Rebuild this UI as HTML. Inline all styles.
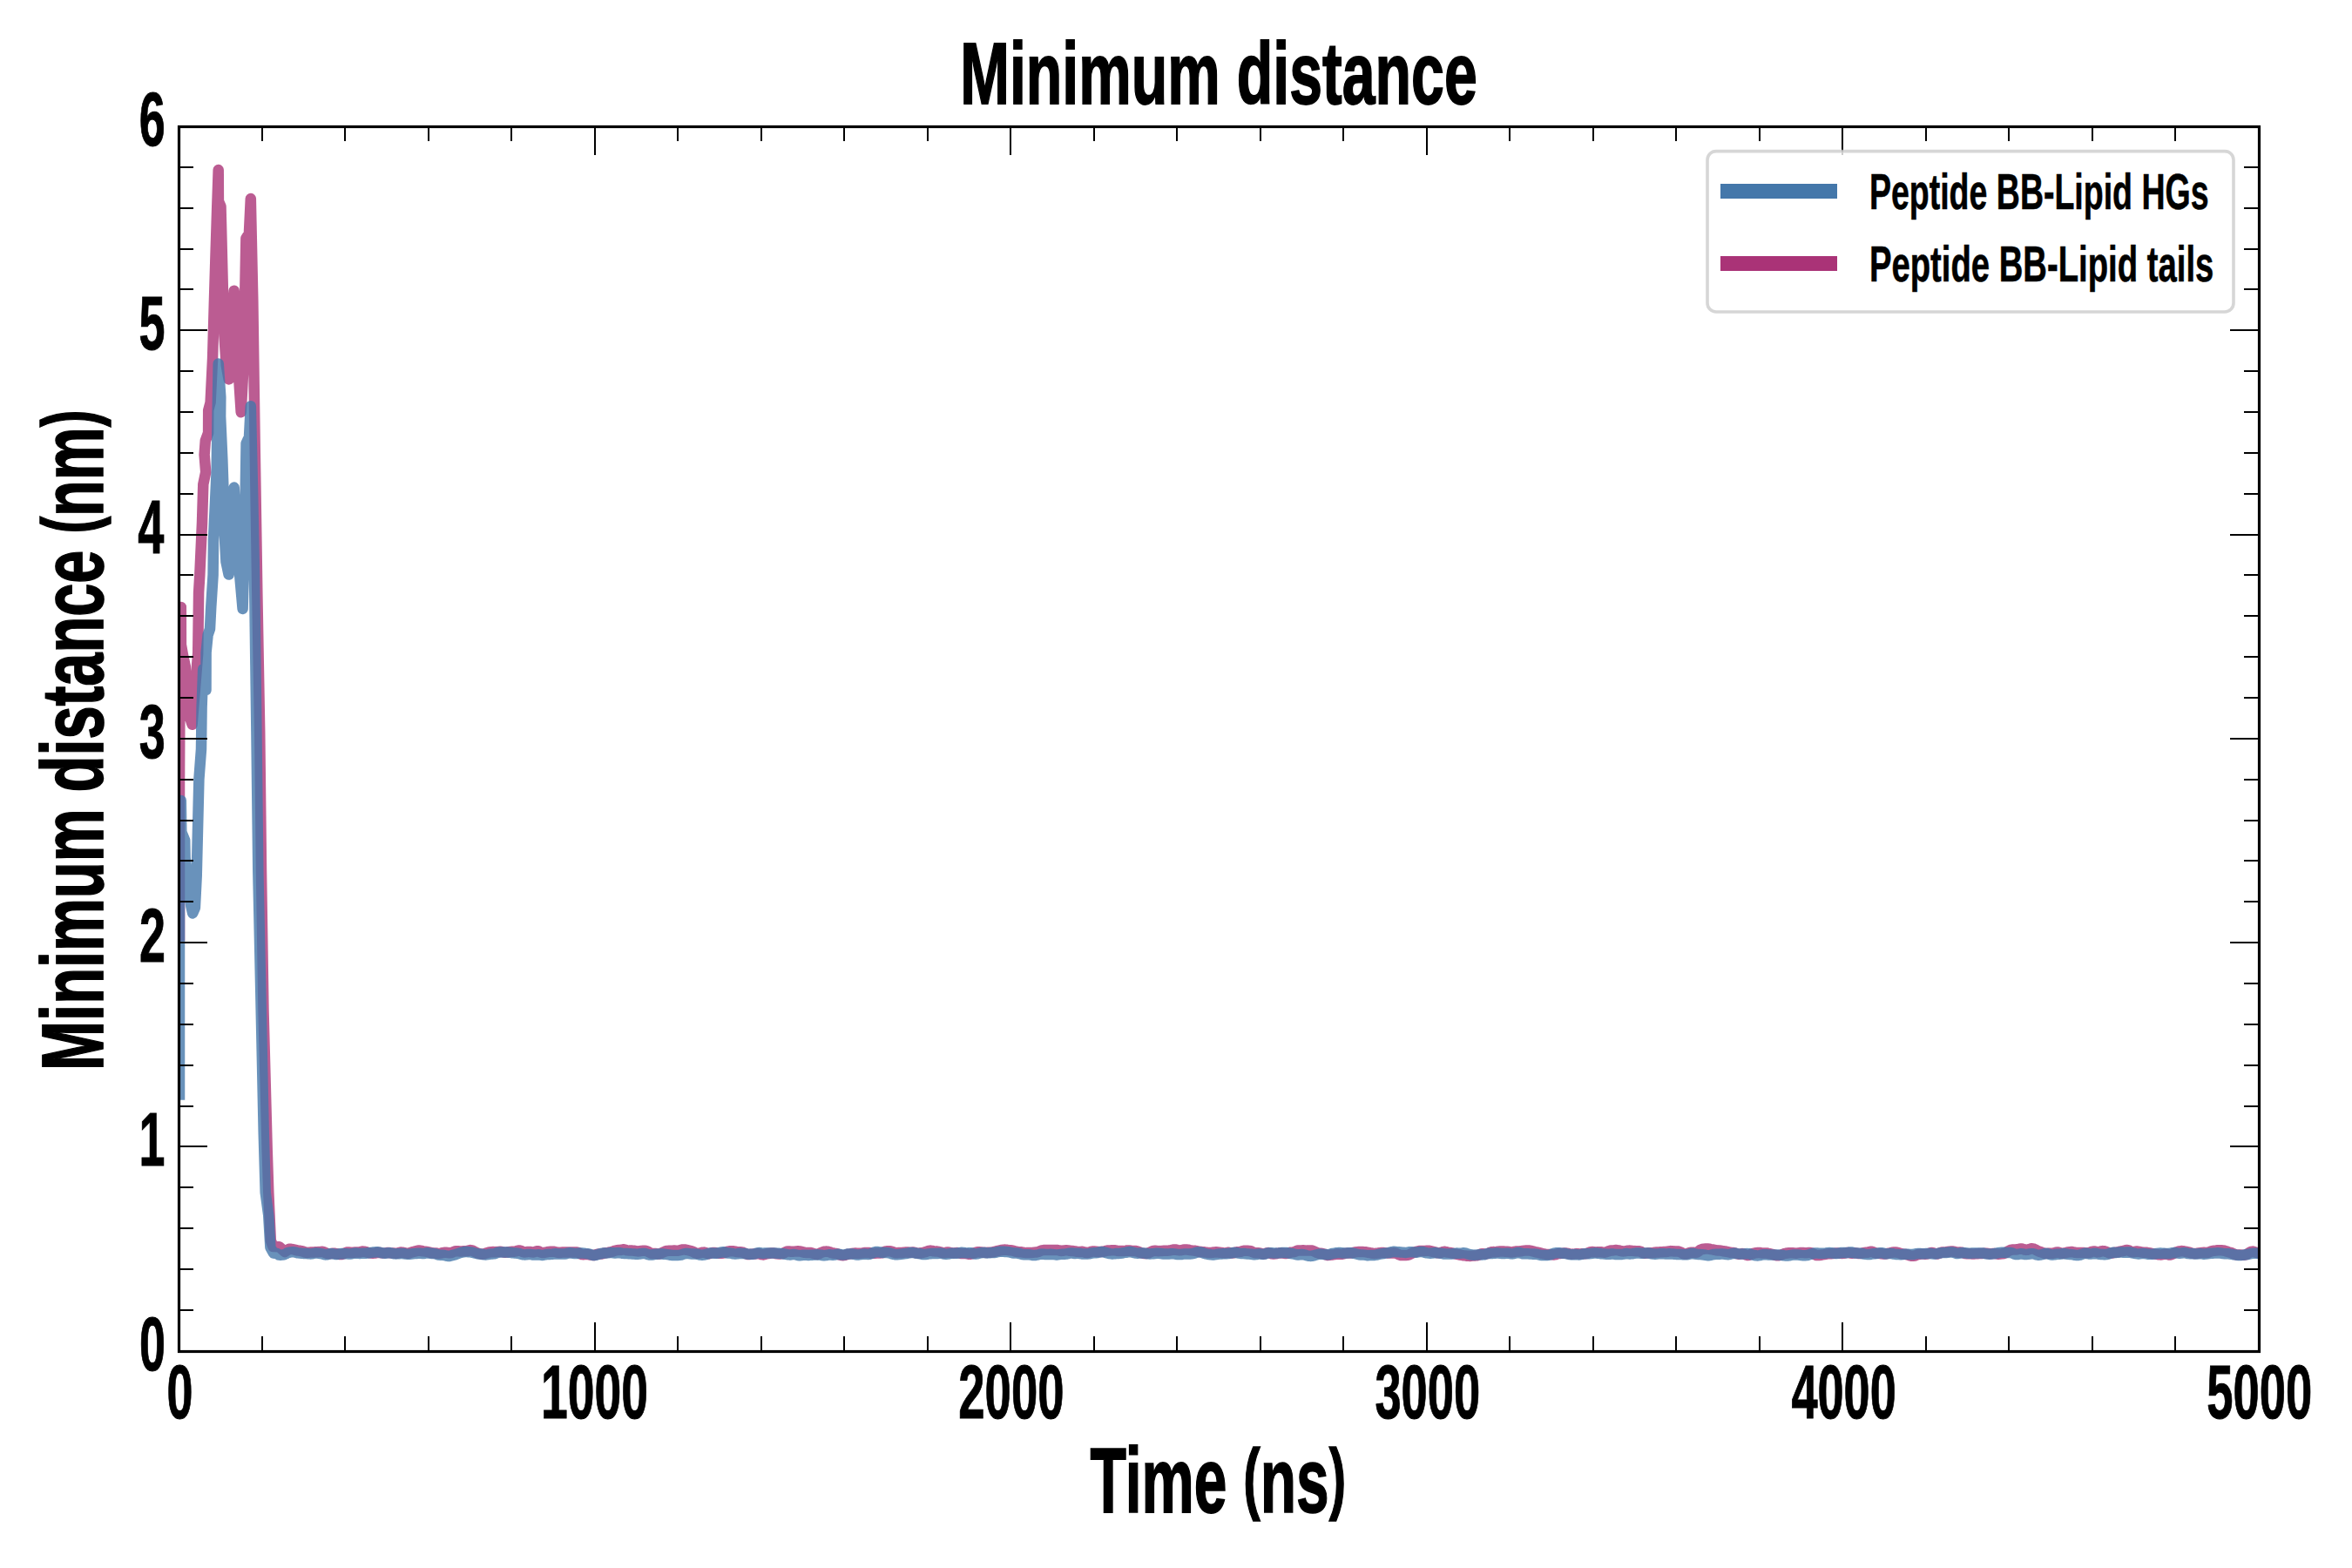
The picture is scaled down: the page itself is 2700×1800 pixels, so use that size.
<!DOCTYPE html>
<html lang="en"><head><meta charset="utf-8"><title>Minimum distance</title>
<style>html,body{margin:0;padding:0;background:#fff}svg{display:block}</style></head>
<body><svg width="2700" height="1800" viewBox="0 0 2700 1800">
<rect width="2700" height="1800" fill="#fff"/>
<defs><clipPath id="ax"><rect x="205.5" y="145.5" width="2388.0" height="1406.0"/></clipPath></defs>
<g clip-path="url(#ax)" fill="none" stroke-width="12.5" stroke-linejoin="round" stroke-linecap="square">
<path d="M206.0,1074.0 L206.0,900.0 L206.6,760.0 L207.8,697.0 L207.9,740.0 L210.0,752.0 L212.8,765.0 L214.5,800.0 L217.5,822.0 L220.6,831.7 L224.0,790.0 L227.2,750.0 L228.1,680.0 L229.3,660.0 L232.0,600.0 L233.3,556.0 L236.2,542.0 L234.6,522.0 L235.8,506.0 L239.1,497.0 L239.2,471.0 L241.6,462.0 L244.1,411.0 L245.8,350.0 L247.3,300.0 L249.2,239.0 L250.7,195.0 L250.9,231.0 L253.5,237.0 L255.8,330.0 L257.5,386.0 L259.8,420.0 L262.6,435.4 L265.0,395.0 L268.7,333.7 L272.0,400.0 L276.7,473.2 L279.0,430.0 L281.0,350.0 L282.4,273.5 L285.9,268.0 L287.8,228.0 L290.3,345.0 L292.8,520.0 L295.3,680.0 L298.2,840.0 L300.0,1000.0 L302.5,1160.0 L306.7,1320.0 L308.3,1369.0 L310.8,1424.0 L313.5,1431.0 L320.5,1431.3 L327.0,1437.0 L332.0,1433.7 L334.0,1433.8 L336.0,1434.2 L338.0,1434.6 L340.0,1435.1 L342.0,1435.6 L344.0,1435.8 L346.0,1436.1 L348.0,1436.6 L350.0,1437.4 L352.0,1437.9 L354.0,1437.8 L356.0,1437.6 L358.0,1437.5 L360.0,1437.4 L362.0,1437.3 L364.0,1437.2 L366.0,1437.1 L368.0,1436.9 L370.0,1436.8 L372.0,1437.3 L374.0,1438.3 L376.0,1439.1 L378.0,1439.3 L380.0,1439.1 L382.0,1438.8 L384.0,1438.8 L386.0,1439.1 L388.0,1439.5 L390.0,1440.0 L392.0,1440.0 L394.0,1439.3 L396.0,1438.3 L398.0,1437.6 L400.0,1437.5 L402.0,1437.8 L404.0,1438.1 L406.0,1437.8 L408.0,1437.5 L410.0,1437.6 L412.0,1437.6 L414.0,1437.1 L416.0,1436.6 L418.0,1436.7 L420.0,1437.1 L422.0,1437.7 L424.0,1438.2 L426.0,1438.5 L428.0,1438.7 L430.0,1438.6 L432.0,1438.1 L434.0,1437.8 L436.0,1437.9 L438.0,1438.4 L440.0,1438.6 L442.0,1438.4 L444.0,1438.1 L446.0,1438.0 L448.0,1438.3 L450.0,1438.5 L452.0,1438.6 L454.0,1438.7 L456.0,1438.7 L458.0,1438.1 L460.0,1437.6 L462.0,1437.7 L464.0,1438.1 L466.0,1438.6 L468.0,1438.8 L470.0,1438.4 L472.0,1437.7 L474.0,1437.1 L476.0,1436.7 L478.0,1436.1 L480.0,1435.6 L482.0,1435.6 L484.0,1436.0 L486.0,1436.4 L488.0,1436.6 L490.0,1436.9 L492.0,1437.3 L494.0,1437.9 L496.0,1438.3 L498.0,1438.4 L500.0,1438.5 L502.0,1438.8 L504.0,1438.9 L506.0,1438.6 L508.0,1438.2 L510.0,1437.8 L512.0,1437.8 L514.0,1438.0 L516.0,1438.2 L518.0,1438.0 L520.0,1437.3 L522.0,1436.5 L524.0,1436.2 L526.0,1436.3 L528.0,1436.4 L530.0,1436.4 L532.0,1436.3 L534.0,1436.3 L536.0,1436.1 L538.0,1435.6 L540.0,1435.1 L542.0,1435.4 L544.0,1436.4 L546.0,1437.5 L548.0,1438.4 L550.0,1439.0 L552.0,1439.5 L554.0,1439.7 L556.0,1439.3 L558.0,1438.5 L560.0,1437.9 L562.0,1437.5 L564.0,1437.2 L566.0,1437.1 L568.0,1437.2 L570.0,1437.1 L572.0,1436.9 L574.0,1436.8 L576.0,1437.0 L578.0,1437.5 L580.0,1437.7 L582.0,1437.6 L584.0,1437.2 L586.0,1436.9 L588.0,1436.7 L590.0,1436.7 L592.0,1436.4 L594.0,1435.8 L596.0,1435.4 L598.0,1435.8 L600.0,1436.9 L602.0,1437.5 L604.0,1437.3 L606.0,1436.9 L608.0,1436.9 L610.0,1437.4 L612.0,1437.6 L614.0,1437.0 L616.0,1436.2 L618.0,1436.3 L620.0,1437.2 L622.0,1438.0 L624.0,1438.1 L626.0,1437.7 L628.0,1437.2 L630.0,1436.9 L632.0,1436.7 L634.0,1436.7 L636.0,1436.8 L638.0,1437.3 L640.0,1437.8 L642.0,1438.0 L644.0,1437.7 L646.0,1437.5 L648.0,1437.5 L650.0,1437.6 L652.0,1437.6 L654.0,1437.5 L656.0,1437.4 L658.0,1437.5 L660.0,1437.4 L662.0,1437.5 L664.0,1438.1 L666.0,1439.2 L668.0,1440.1 L670.0,1440.2 L672.0,1439.8 L674.0,1439.8 L676.0,1440.1 L678.0,1440.6 L680.0,1440.9 L682.0,1440.9 L684.0,1440.4 L686.0,1439.7 L688.0,1439.5 L690.0,1439.6 L692.0,1439.2 L694.0,1438.5 L696.0,1438.1 L698.0,1437.9 L700.0,1437.5 L702.0,1437.0 L704.0,1436.4 L706.0,1435.7 L708.0,1435.2 L710.0,1435.1 L712.0,1435.0 L714.0,1434.6 L716.0,1434.3 L718.0,1434.8 L720.0,1435.4 L722.0,1435.6 L724.0,1435.6 L726.0,1435.6 L728.0,1435.8 L730.0,1436.1 L732.0,1436.4 L734.0,1436.3 L736.0,1435.9 L738.0,1435.8 L740.0,1435.8 L742.0,1436.0 L744.0,1436.8 L746.0,1438.0 L748.0,1439.0 L750.0,1439.0 L752.0,1438.9 L754.0,1439.3 L756.0,1439.5 L758.0,1439.1 L760.0,1438.1 L762.0,1437.2 L764.0,1436.4 L766.0,1435.9 L768.0,1435.8 L770.0,1435.8 L772.0,1435.7 L774.0,1435.5 L776.0,1435.7 L778.0,1435.7 L780.0,1435.4 L782.0,1434.9 L784.0,1434.4 L786.0,1434.4 L788.0,1434.8 L790.0,1435.3 L792.0,1435.8 L794.0,1436.3 L796.0,1437.1 L798.0,1438.2 L800.0,1438.8 L802.0,1438.7 L804.0,1438.3 L806.0,1437.8 L808.0,1437.6 L810.0,1438.1 L812.0,1438.9 L814.0,1439.2 L816.0,1438.7 L818.0,1438.0 L820.0,1438.0 L822.0,1438.3 L824.0,1438.6 L826.0,1438.8 L828.0,1438.8 L830.0,1438.5 L832.0,1437.9 L834.0,1437.1 L836.0,1436.6 L838.0,1436.3 L840.0,1436.2 L842.0,1436.3 L844.0,1436.7 L846.0,1437.1 L848.0,1437.3 L850.0,1437.3 L852.0,1437.4 L854.0,1438.2 L856.0,1439.2 L858.0,1439.9 L860.0,1440.0 L862.0,1439.8 L864.0,1439.6 L866.0,1439.5 L868.0,1439.2 L870.0,1439.0 L872.0,1439.4 L874.0,1440.1 L876.0,1440.4 L878.0,1439.9 L880.0,1439.3 L882.0,1439.0 L884.0,1438.7 L886.0,1438.4 L888.0,1438.5 L890.0,1439.0 L892.0,1439.3 L894.0,1439.5 L896.0,1439.4 L898.0,1439.1 L900.0,1438.3 L902.0,1437.2 L904.0,1436.5 L906.0,1436.5 L908.0,1436.7 L910.0,1436.8 L912.0,1436.6 L914.0,1436.4 L916.0,1436.3 L918.0,1436.4 L920.0,1436.8 L922.0,1437.4 L924.0,1437.9 L926.0,1438.1 L928.0,1438.0 L930.0,1438.0 L932.0,1438.4 L934.0,1439.1 L936.0,1439.7 L938.0,1439.9 L940.0,1439.3 L942.0,1438.3 L944.0,1437.4 L946.0,1436.8 L948.0,1436.6 L950.0,1436.7 L952.0,1437.1 L954.0,1437.9 L956.0,1438.5 L958.0,1438.8 L960.0,1439.0 L962.0,1439.6 L964.0,1440.5 L966.0,1441.1 L968.0,1441.2 L970.0,1440.8 L972.0,1440.1 L974.0,1439.6 L976.0,1439.4 L978.0,1439.0 L980.0,1438.7 L982.0,1438.6 L984.0,1438.7 L986.0,1438.8 L988.0,1438.6 L990.0,1438.4 L992.0,1438.1 L994.0,1438.0 L996.0,1438.0 L998.0,1438.1 L1000.0,1438.5 L1002.0,1438.8 L1004.0,1438.8 L1006.0,1438.5 L1008.0,1438.4 L1010.0,1438.6 L1012.0,1438.4 L1014.0,1437.6 L1016.0,1436.7 L1018.0,1436.3 L1020.0,1436.3 L1022.0,1436.2 L1024.0,1436.7 L1026.0,1437.6 L1028.0,1438.2 L1030.0,1438.2 L1032.0,1437.9 L1034.0,1438.0 L1036.0,1438.0 L1038.0,1437.6 L1040.0,1437.4 L1042.0,1437.5 L1044.0,1437.7 L1046.0,1437.7 L1048.0,1437.5 L1050.0,1437.9 L1052.0,1438.4 L1054.0,1438.7 L1056.0,1438.6 L1058.0,1438.2 L1060.0,1437.8 L1062.0,1437.3 L1064.0,1436.6 L1066.0,1435.9 L1068.0,1435.6 L1070.0,1435.9 L1072.0,1436.4 L1074.0,1436.6 L1076.0,1436.6 L1078.0,1436.9 L1080.0,1437.5 L1082.0,1438.2 L1084.0,1438.3 L1086.0,1437.8 L1088.0,1437.5 L1090.0,1437.7 L1092.0,1438.2 L1094.0,1438.4 L1096.0,1438.3 L1098.0,1438.1 L1100.0,1438.2 L1102.0,1438.7 L1104.0,1439.1 L1106.0,1439.1 L1108.0,1438.9 L1110.0,1439.2 L1112.0,1439.7 L1114.0,1439.7 L1116.0,1439.2 L1118.0,1438.5 L1120.0,1437.8 L1122.0,1437.3 L1124.0,1437.3 L1126.0,1437.5 L1128.0,1437.7 L1130.0,1437.8 L1132.0,1437.9 L1134.0,1437.8 L1136.0,1437.8 L1138.0,1437.7 L1140.0,1437.3 L1142.0,1436.7 L1144.0,1436.2 L1146.0,1435.8 L1148.0,1435.4 L1150.0,1435.0 L1152.0,1434.7 L1154.0,1434.6 L1156.0,1434.8 L1158.0,1435.2 L1160.0,1435.3 L1162.0,1435.5 L1164.0,1436.1 L1166.0,1436.7 L1168.0,1437.1 L1170.0,1437.2 L1172.0,1437.3 L1174.0,1437.6 L1176.0,1437.9 L1178.0,1438.1 L1180.0,1438.0 L1182.0,1437.9 L1184.0,1437.9 L1186.0,1437.8 L1188.0,1437.6 L1190.0,1437.5 L1192.0,1437.0 L1194.0,1436.1 L1196.0,1435.4 L1198.0,1435.1 L1200.0,1435.0 L1202.0,1434.9 L1204.0,1434.9 L1206.0,1434.9 L1208.0,1434.9 L1210.0,1434.9 L1212.0,1434.9 L1214.0,1435.0 L1216.0,1435.5 L1218.0,1435.9 L1220.0,1435.8 L1222.0,1435.4 L1224.0,1435.2 L1226.0,1435.4 L1228.0,1435.8 L1230.0,1436.0 L1232.0,1436.1 L1234.0,1436.4 L1236.0,1436.7 L1238.0,1436.9 L1240.0,1436.9 L1242.0,1436.8 L1244.0,1437.1 L1246.0,1437.8 L1248.0,1438.1 L1250.0,1437.8 L1252.0,1437.0 L1254.0,1436.6 L1256.0,1436.5 L1258.0,1436.7 L1260.0,1437.0 L1262.0,1437.0 L1264.0,1437.0 L1266.0,1436.8 L1268.0,1436.4 L1270.0,1435.9 L1272.0,1435.5 L1274.0,1435.4 L1276.0,1435.3 L1278.0,1435.2 L1280.0,1435.3 L1282.0,1435.7 L1284.0,1436.0 L1286.0,1436.0 L1288.0,1436.0 L1290.0,1436.1 L1292.0,1435.9 L1294.0,1435.5 L1296.0,1435.5 L1298.0,1435.8 L1300.0,1436.1 L1302.0,1436.0 L1304.0,1436.1 L1306.0,1436.6 L1308.0,1437.4 L1310.0,1438.2 L1312.0,1438.7 L1314.0,1439.0 L1316.0,1439.0 L1318.0,1438.5 L1320.0,1437.6 L1322.0,1436.7 L1324.0,1436.0 L1326.0,1435.8 L1328.0,1436.0 L1330.0,1436.2 L1332.0,1436.1 L1334.0,1435.9 L1336.0,1435.8 L1338.0,1435.7 L1340.0,1435.7 L1342.0,1435.5 L1344.0,1435.2 L1346.0,1434.8 L1348.0,1434.5 L1350.0,1434.6 L1352.0,1435.1 L1354.0,1435.4 L1356.0,1435.2 L1358.0,1434.7 L1360.0,1434.4 L1362.0,1434.5 L1364.0,1434.7 L1366.0,1435.1 L1368.0,1435.4 L1370.0,1435.6 L1372.0,1435.8 L1374.0,1436.2 L1376.0,1436.8 L1378.0,1437.1 L1380.0,1437.1 L1382.0,1437.3 L1384.0,1437.6 L1386.0,1437.8 L1388.0,1437.9 L1390.0,1437.9 L1392.0,1437.8 L1394.0,1437.4 L1396.0,1437.3 L1398.0,1437.5 L1400.0,1437.7 L1402.0,1437.9 L1404.0,1438.2 L1406.0,1438.4 L1408.0,1438.1 L1410.0,1437.8 L1412.0,1438.1 L1414.0,1438.5 L1416.0,1438.3 L1418.0,1437.7 L1420.0,1437.3 L1422.0,1437.1 L1424.0,1436.9 L1426.0,1436.3 L1428.0,1435.8 L1430.0,1435.7 L1432.0,1435.8 L1434.0,1436.0 L1436.0,1436.3 L1438.0,1437.2 L1440.0,1438.0 L1442.0,1438.3 L1444.0,1438.2 L1446.0,1438.4 L1448.0,1439.0 L1450.0,1439.6 L1452.0,1439.4 L1454.0,1438.5 L1456.0,1438.1 L1458.0,1438.6 L1460.0,1439.3 L1462.0,1439.5 L1464.0,1439.3 L1466.0,1439.0 L1468.0,1438.5 L1470.0,1438.3 L1472.0,1438.4 L1474.0,1438.7 L1476.0,1439.1 L1478.0,1438.9 L1480.0,1438.2 L1482.0,1437.6 L1484.0,1437.4 L1486.0,1437.1 L1488.0,1436.2 L1490.0,1435.5 L1492.0,1435.4 L1494.0,1435.5 L1496.0,1435.3 L1498.0,1435.4 L1500.0,1435.6 L1502.0,1435.6 L1504.0,1435.5 L1506.0,1435.6 L1508.0,1436.2 L1510.0,1437.1 L1512.0,1438.1 L1514.0,1438.7 L1516.0,1438.8 L1518.0,1439.0 L1520.0,1439.5 L1522.0,1440.4 L1524.0,1440.9 L1526.0,1440.8 L1528.0,1440.5 L1530.0,1440.4 L1532.0,1440.1 L1534.0,1439.7 L1536.0,1439.5 L1538.0,1439.7 L1540.0,1439.8 L1542.0,1439.4 L1544.0,1438.9 L1546.0,1438.6 L1548.0,1438.6 L1550.0,1438.6 L1552.0,1438.3 L1554.0,1437.8 L1556.0,1437.4 L1558.0,1437.1 L1560.0,1436.9 L1562.0,1436.9 L1564.0,1436.9 L1566.0,1437.1 L1568.0,1437.3 L1570.0,1437.7 L1572.0,1438.0 L1574.0,1438.5 L1576.0,1438.8 L1578.0,1438.9 L1580.0,1438.7 L1582.0,1438.5 L1584.0,1438.2 L1586.0,1438.0 L1588.0,1438.1 L1590.0,1438.2 L1592.0,1438.4 L1594.0,1438.5 L1596.0,1438.5 L1598.0,1438.4 L1600.0,1438.3 L1602.0,1438.5 L1604.0,1439.4 L1606.0,1440.3 L1608.0,1440.9 L1610.0,1440.9 L1612.0,1440.9 L1614.0,1440.9 L1616.0,1440.8 L1618.0,1440.2 L1620.0,1439.2 L1622.0,1438.2 L1624.0,1437.4 L1626.0,1436.8 L1628.0,1436.4 L1630.0,1436.0 L1632.0,1435.9 L1634.0,1435.9 L1636.0,1435.9 L1638.0,1435.7 L1640.0,1435.7 L1642.0,1436.1 L1644.0,1436.6 L1646.0,1437.1 L1648.0,1437.6 L1650.0,1438.2 L1652.0,1438.4 L1654.0,1438.0 L1656.0,1437.2 L1658.0,1436.8 L1660.0,1437.1 L1662.0,1437.6 L1664.0,1437.9 L1666.0,1438.2 L1668.0,1438.8 L1670.0,1439.3 L1672.0,1439.8 L1674.0,1440.1 L1676.0,1440.5 L1678.0,1440.9 L1680.0,1441.2 L1682.0,1441.4 L1684.0,1441.7 L1686.0,1441.8 L1688.0,1441.9 L1690.0,1441.6 L1692.0,1441.4 L1694.0,1441.4 L1696.0,1441.2 L1698.0,1440.5 L1700.0,1439.5 L1702.0,1439.2 L1704.0,1439.4 L1706.0,1439.5 L1708.0,1439.0 L1710.0,1438.0 L1712.0,1437.3 L1714.0,1437.1 L1716.0,1437.2 L1718.0,1437.0 L1720.0,1436.7 L1722.0,1436.5 L1724.0,1436.5 L1726.0,1436.6 L1728.0,1436.7 L1730.0,1436.7 L1732.0,1437.0 L1734.0,1437.4 L1736.0,1437.4 L1738.0,1437.0 L1740.0,1436.6 L1742.0,1436.5 L1744.0,1436.5 L1746.0,1436.3 L1748.0,1435.9 L1750.0,1435.6 L1752.0,1435.4 L1754.0,1435.5 L1756.0,1435.6 L1758.0,1435.9 L1760.0,1436.5 L1762.0,1437.1 L1764.0,1437.5 L1766.0,1437.9 L1768.0,1438.4 L1770.0,1438.9 L1772.0,1439.3 L1774.0,1439.7 L1776.0,1440.0 L1778.0,1440.1 L1780.0,1440.1 L1782.0,1440.3 L1784.0,1440.4 L1786.0,1440.0 L1788.0,1439.3 L1790.0,1438.9 L1792.0,1438.9 L1794.0,1438.7 L1796.0,1438.5 L1798.0,1438.6 L1800.0,1439.0 L1802.0,1439.4 L1804.0,1439.7 L1806.0,1439.6 L1808.0,1439.4 L1810.0,1439.1 L1812.0,1439.3 L1814.0,1439.4 L1816.0,1439.3 L1818.0,1439.3 L1820.0,1439.2 L1822.0,1438.8 L1824.0,1437.9 L1826.0,1437.2 L1828.0,1437.1 L1830.0,1437.2 L1832.0,1437.4 L1834.0,1437.3 L1836.0,1437.2 L1838.0,1437.3 L1840.0,1437.6 L1842.0,1437.8 L1844.0,1437.3 L1846.0,1436.5 L1848.0,1435.8 L1850.0,1435.5 L1852.0,1435.4 L1854.0,1435.1 L1856.0,1435.1 L1858.0,1435.4 L1860.0,1435.9 L1862.0,1436.3 L1864.0,1436.4 L1866.0,1436.2 L1868.0,1435.8 L1870.0,1435.6 L1872.0,1435.7 L1874.0,1435.9 L1876.0,1436.1 L1878.0,1436.2 L1880.0,1436.2 L1882.0,1436.3 L1884.0,1437.0 L1886.0,1438.2 L1888.0,1438.8 L1890.0,1438.6 L1892.0,1438.3 L1894.0,1438.2 L1896.0,1438.2 L1898.0,1438.0 L1900.0,1437.7 L1902.0,1437.4 L1904.0,1437.4 L1906.0,1437.3 L1908.0,1437.2 L1910.0,1437.1 L1912.0,1437.0 L1914.0,1436.8 L1916.0,1436.4 L1918.0,1436.1 L1920.0,1436.3 L1922.0,1436.6 L1924.0,1436.6 L1926.0,1436.5 L1928.0,1436.9 L1930.0,1437.8 L1932.0,1438.9 L1934.0,1439.5 L1936.0,1439.4 L1938.0,1438.7 L1940.0,1438.0 L1942.0,1437.7 L1944.0,1437.8 L1946.0,1438.1 L1948.0,1437.7 L1950.0,1436.3 L1952.0,1434.8 L1954.0,1434.0 L1956.0,1433.7 L1958.0,1433.5 L1960.0,1433.4 L1962.0,1433.7 L1964.0,1434.1 L1966.0,1434.4 L1968.0,1434.8 L1970.0,1435.3 L1972.0,1435.6 L1974.0,1435.6 L1976.0,1435.7 L1978.0,1436.2 L1980.0,1436.5 L1982.0,1436.8 L1984.0,1437.2 L1986.0,1437.7 L1988.0,1437.9 L1990.0,1437.9 L1992.0,1438.5 L1994.0,1439.3 L1996.0,1439.8 L1998.0,1439.5 L2000.0,1439.1 L2002.0,1439.5 L2004.0,1440.5 L2006.0,1441.0 L2008.0,1440.7 L2010.0,1439.9 L2012.0,1439.1 L2014.0,1438.6 L2016.0,1438.2 L2018.0,1438.0 L2020.0,1438.0 L2022.0,1438.4 L2024.0,1438.5 L2026.0,1438.4 L2028.0,1438.5 L2030.0,1438.9 L2032.0,1439.2 L2034.0,1439.7 L2036.0,1440.3 L2038.0,1440.9 L2040.0,1441.3 L2042.0,1441.3 L2044.0,1440.8 L2046.0,1440.0 L2048.0,1439.2 L2050.0,1438.8 L2052.0,1438.5 L2054.0,1438.2 L2056.0,1438.2 L2058.0,1438.3 L2060.0,1438.6 L2062.0,1438.7 L2064.0,1438.4 L2066.0,1438.1 L2068.0,1438.0 L2070.0,1438.1 L2072.0,1438.2 L2074.0,1438.2 L2076.0,1438.1 L2078.0,1438.0 L2080.0,1438.5 L2082.0,1439.5 L2084.0,1440.6 L2086.0,1441.1 L2088.0,1441.1 L2090.0,1440.8 L2092.0,1440.4 L2094.0,1440.1 L2096.0,1439.7 L2098.0,1439.4 L2100.0,1439.2 L2102.0,1439.2 L2104.0,1439.1 L2106.0,1438.8 L2108.0,1438.4 L2110.0,1438.5 L2112.0,1438.7 L2114.0,1438.9 L2116.0,1438.8 L2118.0,1438.5 L2120.0,1438.0 L2122.0,1438.0 L2124.0,1438.5 L2126.0,1438.7 L2128.0,1438.4 L2130.0,1438.3 L2132.0,1438.8 L2134.0,1439.1 L2136.0,1439.0 L2138.0,1438.5 L2140.0,1437.9 L2142.0,1437.8 L2144.0,1437.7 L2146.0,1437.1 L2148.0,1436.7 L2150.0,1437.1 L2152.0,1438.1 L2154.0,1438.7 L2156.0,1438.8 L2158.0,1438.9 L2160.0,1439.3 L2162.0,1439.5 L2164.0,1439.5 L2166.0,1439.1 L2168.0,1438.7 L2170.0,1438.2 L2172.0,1437.7 L2174.0,1437.5 L2176.0,1437.5 L2178.0,1437.7 L2180.0,1438.2 L2182.0,1439.0 L2184.0,1439.6 L2186.0,1439.7 L2188.0,1439.9 L2190.0,1440.5 L2192.0,1441.3 L2194.0,1441.8 L2196.0,1441.8 L2198.0,1441.5 L2200.0,1440.8 L2202.0,1440.0 L2204.0,1439.7 L2206.0,1439.6 L2208.0,1439.6 L2210.0,1439.7 L2212.0,1439.6 L2214.0,1439.0 L2216.0,1438.2 L2218.0,1437.9 L2220.0,1438.5 L2222.0,1439.3 L2224.0,1439.4 L2226.0,1438.8 L2228.0,1437.8 L2230.0,1437.4 L2232.0,1437.4 L2234.0,1437.3 L2236.0,1437.0 L2238.0,1436.7 L2240.0,1436.5 L2242.0,1436.6 L2244.0,1437.0 L2246.0,1437.5 L2248.0,1437.7 L2250.0,1437.5 L2252.0,1437.7 L2254.0,1438.4 L2256.0,1439.1 L2258.0,1439.3 L2260.0,1439.3 L2262.0,1439.3 L2264.0,1439.4 L2266.0,1439.4 L2268.0,1439.3 L2270.0,1439.2 L2272.0,1439.0 L2274.0,1439.0 L2276.0,1438.9 L2278.0,1438.7 L2280.0,1438.7 L2282.0,1439.0 L2284.0,1439.3 L2286.0,1439.2 L2288.0,1439.0 L2290.0,1439.1 L2292.0,1439.4 L2294.0,1439.7 L2296.0,1439.6 L2298.0,1439.4 L2300.0,1439.0 L2302.0,1438.3 L2304.0,1437.1 L2306.0,1435.9 L2308.0,1435.0 L2310.0,1434.6 L2312.0,1434.5 L2314.0,1434.5 L2316.0,1434.2 L2318.0,1433.7 L2320.0,1433.5 L2322.0,1433.8 L2324.0,1434.5 L2326.0,1434.9 L2328.0,1434.7 L2330.0,1433.9 L2332.0,1433.3 L2334.0,1433.4 L2336.0,1434.2 L2338.0,1435.4 L2340.0,1436.3 L2342.0,1437.0 L2344.0,1437.7 L2346.0,1438.5 L2348.0,1438.9 L2350.0,1438.8 L2352.0,1438.6 L2354.0,1438.8 L2356.0,1438.8 L2358.0,1438.4 L2360.0,1437.8 L2362.0,1437.5 L2364.0,1437.9 L2366.0,1438.6 L2368.0,1438.8 L2370.0,1438.5 L2372.0,1437.9 L2374.0,1437.5 L2376.0,1437.2 L2378.0,1437.0 L2380.0,1437.4 L2382.0,1437.8 L2384.0,1437.9 L2386.0,1437.9 L2388.0,1437.9 L2390.0,1438.0 L2392.0,1438.1 L2394.0,1438.2 L2396.0,1438.2 L2398.0,1438.0 L2400.0,1437.4 L2402.0,1436.6 L2404.0,1436.4 L2406.0,1436.8 L2408.0,1437.4 L2410.0,1437.2 L2412.0,1436.5 L2414.0,1436.1 L2416.0,1436.3 L2418.0,1437.0 L2420.0,1437.8 L2422.0,1438.5 L2424.0,1438.6 L2426.0,1438.1 L2428.0,1437.8 L2430.0,1437.5 L2432.0,1437.1 L2434.0,1436.6 L2436.0,1436.3 L2438.0,1435.9 L2440.0,1435.3 L2442.0,1435.0 L2444.0,1435.6 L2446.0,1436.7 L2448.0,1437.3 L2450.0,1437.0 L2452.0,1436.6 L2454.0,1436.6 L2456.0,1436.9 L2458.0,1437.3 L2460.0,1437.7 L2462.0,1437.8 L2464.0,1437.8 L2466.0,1438.1 L2468.0,1438.5 L2470.0,1438.9 L2472.0,1439.3 L2474.0,1439.6 L2476.0,1439.9 L2478.0,1440.2 L2480.0,1440.4 L2482.0,1440.3 L2484.0,1439.8 L2486.0,1439.5 L2488.0,1439.8 L2490.0,1440.4 L2492.0,1440.4 L2494.0,1439.7 L2496.0,1438.5 L2498.0,1437.5 L2500.0,1436.9 L2502.0,1436.4 L2504.0,1436.1 L2506.0,1436.2 L2508.0,1436.6 L2510.0,1437.0 L2512.0,1437.4 L2514.0,1437.9 L2516.0,1438.6 L2518.0,1438.9 L2520.0,1438.9 L2522.0,1438.8 L2524.0,1438.5 L2526.0,1438.2 L2528.0,1437.9 L2530.0,1437.8 L2532.0,1438.1 L2534.0,1438.1 L2536.0,1437.4 L2538.0,1436.5 L2540.0,1435.9 L2542.0,1435.7 L2544.0,1435.5 L2546.0,1435.2 L2548.0,1435.3 L2550.0,1435.3 L2552.0,1435.5 L2554.0,1435.8 L2556.0,1436.5 L2558.0,1437.2 L2560.0,1437.7 L2562.0,1438.3 L2564.0,1439.3 L2566.0,1440.1 L2568.0,1440.5 L2570.0,1440.5 L2572.0,1440.6 L2574.0,1440.7 L2576.0,1440.7 L2578.0,1440.4 L2580.0,1439.4 L2582.0,1438.0 L2584.0,1436.9 L2586.0,1436.6 L2588.0,1437.1 L2590.0,1437.8 L2592.0,1438.3" stroke="#AA3377" stroke-opacity="0.8"/>
<path d="M206.0,1256.6 L206.0,1000.0 L207.8,919.0 L208.3,955.0 L212.2,964.5 L212.6,985.0 L216.0,1015.0 L219.3,1040.0 L221.2,1048.4 L223.9,1042.0 L225.7,1006.0 L228.4,894.6 L231.0,860.0 L231.6,812.0 L233.2,768.0 L236.5,792.0 L236.6,749.0 L238.6,729.0 L241.0,722.0 L242.2,698.0 L244.6,660.0 L245.0,620.0 L248.7,540.0 L249.7,470.0 L250.7,417.4 L253.3,456.0 L253.1,478.0 L255.3,527.0 L256.2,553.0 L257.6,612.0 L259.5,645.0 L262.6,659.6 L265.0,620.0 L268.7,559.6 L272.5,630.0 L278.6,699.0 L280.0,650.0 L281.5,580.0 L282.6,509.0 L286.0,501.5 L287.8,466.2 L290.0,560.0 L292.0,660.0 L294.4,840.0 L296.3,1000.0 L299.3,1140.0 L302.7,1300.0 L304.7,1369.0 L308.2,1395.0 L310.4,1432.0 L314.0,1438.5 L318.0,1439.0 L320.0,1440.6 L322.0,1440.7 L324.0,1440.6 L326.0,1440.3 L328.0,1439.4 L330.0,1438.3 L332.0,1437.7 L334.0,1437.4 L336.0,1437.2 L338.0,1437.4 L340.0,1437.8 L342.0,1438.4 L344.0,1438.6 L346.0,1438.7 L348.0,1438.9 L350.0,1438.9 L352.0,1439.0 L354.0,1439.2 L356.0,1439.4 L358.0,1439.3 L360.0,1438.9 L362.0,1438.6 L364.0,1438.6 L366.0,1438.8 L368.0,1439.1 L370.0,1439.4 L372.0,1440.0 L374.0,1440.4 L376.0,1440.2 L378.0,1439.5 L380.0,1439.1 L382.0,1439.3 L384.0,1439.7 L386.0,1440.0 L388.0,1439.7 L390.0,1439.2 L392.0,1439.1 L394.0,1439.2 L396.0,1439.3 L398.0,1439.3 L400.0,1439.4 L402.0,1439.5 L404.0,1439.3 L406.0,1438.8 L408.0,1438.6 L410.0,1438.7 L412.0,1438.9 L414.0,1438.9 L416.0,1438.7 L418.0,1438.7 L420.0,1438.7 L422.0,1438.6 L424.0,1438.2 L426.0,1437.9 L428.0,1437.6 L430.0,1437.5 L432.0,1437.3 L434.0,1437.3 L436.0,1437.7 L438.0,1438.2 L440.0,1438.6 L442.0,1438.7 L444.0,1438.5 L446.0,1438.3 L448.0,1438.3 L450.0,1438.7 L452.0,1439.2 L454.0,1439.4 L456.0,1439.3 L458.0,1439.2 L460.0,1439.0 L462.0,1439.0 L464.0,1439.3 L466.0,1439.6 L468.0,1439.8 L470.0,1439.7 L472.0,1439.5 L474.0,1439.3 L476.0,1439.1 L478.0,1439.0 L480.0,1438.8 L482.0,1438.7 L484.0,1438.9 L486.0,1439.0 L488.0,1438.7 L490.0,1438.3 L492.0,1438.4 L494.0,1438.8 L496.0,1439.0 L498.0,1439.1 L500.0,1439.4 L502.0,1440.1 L504.0,1440.6 L506.0,1440.8 L508.0,1440.8 L510.0,1441.0 L512.0,1441.5 L514.0,1441.9 L516.0,1441.9 L518.0,1441.4 L520.0,1440.9 L522.0,1440.4 L524.0,1439.8 L526.0,1439.0 L528.0,1438.2 L530.0,1437.7 L532.0,1437.3 L534.0,1437.0 L536.0,1437.0 L538.0,1437.2 L540.0,1437.4 L542.0,1437.7 L544.0,1438.2 L546.0,1438.8 L548.0,1439.3 L550.0,1439.5 L552.0,1439.7 L554.0,1440.0 L556.0,1440.3 L558.0,1440.4 L560.0,1440.1 L562.0,1439.7 L564.0,1439.5 L566.0,1439.4 L568.0,1439.2 L570.0,1438.4 L572.0,1437.7 L574.0,1437.5 L576.0,1437.5 L578.0,1437.6 L580.0,1437.5 L582.0,1437.5 L584.0,1437.7 L586.0,1437.9 L588.0,1438.2 L590.0,1438.4 L592.0,1438.5 L594.0,1438.7 L596.0,1439.1 L598.0,1439.7 L600.0,1440.2 L602.0,1440.4 L604.0,1440.3 L606.0,1440.0 L608.0,1439.9 L610.0,1440.1 L612.0,1440.5 L614.0,1440.6 L616.0,1440.4 L618.0,1440.3 L620.0,1440.6 L622.0,1440.9 L624.0,1440.8 L626.0,1440.3 L628.0,1439.9 L630.0,1439.8 L632.0,1439.9 L634.0,1439.7 L636.0,1439.4 L638.0,1439.3 L640.0,1439.4 L642.0,1439.5 L644.0,1439.5 L646.0,1439.4 L648.0,1439.5 L650.0,1439.2 L652.0,1438.6 L654.0,1438.3 L656.0,1438.4 L658.0,1438.8 L660.0,1439.1 L662.0,1439.0 L664.0,1438.7 L666.0,1438.4 L668.0,1438.4 L670.0,1438.6 L672.0,1438.9 L674.0,1439.1 L676.0,1439.4 L678.0,1440.0 L680.0,1440.8 L682.0,1441.1 L684.0,1440.9 L686.0,1440.2 L688.0,1439.6 L690.0,1439.0 L692.0,1438.6 L694.0,1438.5 L696.0,1438.6 L698.0,1438.4 L700.0,1438.1 L702.0,1438.1 L704.0,1438.3 L706.0,1438.5 L708.0,1438.3 L710.0,1438.1 L712.0,1438.3 L714.0,1438.7 L716.0,1438.9 L718.0,1439.0 L720.0,1439.0 L722.0,1439.2 L724.0,1439.3 L726.0,1439.4 L728.0,1439.5 L730.0,1439.7 L732.0,1439.7 L734.0,1439.6 L736.0,1439.2 L738.0,1438.9 L740.0,1439.0 L742.0,1439.6 L744.0,1440.2 L746.0,1440.6 L748.0,1440.5 L750.0,1440.2 L752.0,1439.9 L754.0,1439.7 L756.0,1439.6 L758.0,1439.4 L760.0,1439.5 L762.0,1439.7 L764.0,1439.9 L766.0,1440.1 L768.0,1440.4 L770.0,1440.8 L772.0,1441.0 L774.0,1440.9 L776.0,1440.9 L778.0,1440.9 L780.0,1440.8 L782.0,1440.5 L784.0,1439.8 L786.0,1439.2 L788.0,1439.0 L790.0,1439.1 L792.0,1439.3 L794.0,1439.4 L796.0,1439.4 L798.0,1439.6 L800.0,1439.7 L802.0,1440.1 L804.0,1440.6 L806.0,1440.7 L808.0,1440.6 L810.0,1440.2 L812.0,1439.6 L814.0,1438.9 L816.0,1438.5 L818.0,1438.5 L820.0,1438.7 L822.0,1438.7 L824.0,1438.5 L826.0,1438.0 L828.0,1437.4 L830.0,1437.3 L832.0,1437.6 L834.0,1438.2 L836.0,1438.5 L838.0,1438.6 L840.0,1438.9 L842.0,1439.4 L844.0,1439.6 L846.0,1439.4 L848.0,1439.0 L850.0,1438.8 L852.0,1438.9 L854.0,1439.0 L856.0,1439.2 L858.0,1439.5 L860.0,1439.7 L862.0,1439.7 L864.0,1439.7 L866.0,1439.4 L868.0,1438.8 L870.0,1438.2 L872.0,1438.1 L874.0,1438.5 L876.0,1438.7 L878.0,1438.5 L880.0,1438.4 L882.0,1438.5 L884.0,1438.6 L886.0,1438.5 L888.0,1438.5 L890.0,1438.6 L892.0,1438.7 L894.0,1438.8 L896.0,1438.9 L898.0,1439.1 L900.0,1439.5 L902.0,1439.8 L904.0,1440.2 L906.0,1440.4 L908.0,1440.4 L910.0,1440.1 L912.0,1440.1 L914.0,1440.4 L916.0,1441.0 L918.0,1441.3 L920.0,1441.1 L922.0,1440.7 L924.0,1440.7 L926.0,1440.8 L928.0,1441.0 L930.0,1440.8 L932.0,1440.7 L934.0,1440.6 L936.0,1440.4 L938.0,1440.3 L940.0,1440.4 L942.0,1440.6 L944.0,1441.0 L946.0,1441.3 L948.0,1441.1 L950.0,1440.6 L952.0,1440.3 L954.0,1440.5 L956.0,1440.7 L958.0,1440.5 L960.0,1440.1 L962.0,1439.8 L964.0,1440.0 L966.0,1440.3 L968.0,1440.4 L970.0,1440.2 L972.0,1439.8 L974.0,1439.5 L976.0,1439.4 L978.0,1439.4 L980.0,1439.8 L982.0,1440.3 L984.0,1440.5 L986.0,1440.4 L988.0,1440.1 L990.0,1439.8 L992.0,1439.6 L994.0,1439.7 L996.0,1439.9 L998.0,1439.8 L1000.0,1439.1 L1002.0,1438.2 L1004.0,1437.4 L1006.0,1437.0 L1008.0,1437.1 L1010.0,1437.4 L1012.0,1437.8 L1014.0,1437.9 L1016.0,1438.0 L1018.0,1438.1 L1020.0,1438.3 L1022.0,1438.8 L1024.0,1439.4 L1026.0,1439.9 L1028.0,1440.2 L1030.0,1440.2 L1032.0,1440.1 L1034.0,1439.8 L1036.0,1439.5 L1038.0,1439.2 L1040.0,1439.0 L1042.0,1438.7 L1044.0,1438.3 L1046.0,1438.0 L1048.0,1438.1 L1050.0,1438.4 L1052.0,1438.8 L1054.0,1438.9 L1056.0,1439.2 L1058.0,1439.7 L1060.0,1440.0 L1062.0,1440.1 L1064.0,1439.8 L1066.0,1439.4 L1068.0,1439.2 L1070.0,1439.0 L1072.0,1439.0 L1074.0,1439.0 L1076.0,1439.0 L1078.0,1438.8 L1080.0,1438.7 L1082.0,1439.1 L1084.0,1439.5 L1086.0,1439.7 L1088.0,1439.5 L1090.0,1439.2 L1092.0,1438.8 L1094.0,1438.7 L1096.0,1438.8 L1098.0,1438.7 L1100.0,1438.5 L1102.0,1438.1 L1104.0,1437.8 L1106.0,1437.9 L1108.0,1438.2 L1110.0,1438.4 L1112.0,1438.3 L1114.0,1438.3 L1116.0,1438.6 L1118.0,1439.2 L1120.0,1439.5 L1122.0,1439.3 L1124.0,1438.7 L1126.0,1438.2 L1128.0,1438.0 L1130.0,1438.0 L1132.0,1438.3 L1134.0,1438.4 L1136.0,1438.2 L1138.0,1438.0 L1140.0,1438.0 L1142.0,1437.9 L1144.0,1437.5 L1146.0,1437.0 L1148.0,1436.8 L1150.0,1436.8 L1152.0,1436.8 L1154.0,1437.0 L1156.0,1437.1 L1158.0,1437.3 L1160.0,1437.8 L1162.0,1438.3 L1164.0,1438.6 L1166.0,1438.6 L1168.0,1438.6 L1170.0,1439.0 L1172.0,1439.6 L1174.0,1440.0 L1176.0,1440.3 L1178.0,1440.3 L1180.0,1440.3 L1182.0,1440.3 L1184.0,1440.7 L1186.0,1441.1 L1188.0,1441.1 L1190.0,1440.7 L1192.0,1440.3 L1194.0,1439.8 L1196.0,1439.6 L1198.0,1439.8 L1200.0,1440.0 L1202.0,1440.0 L1204.0,1439.9 L1206.0,1439.8 L1208.0,1439.9 L1210.0,1440.1 L1212.0,1440.4 L1214.0,1440.4 L1216.0,1440.1 L1218.0,1439.9 L1220.0,1439.7 L1222.0,1439.7 L1224.0,1439.6 L1226.0,1439.2 L1228.0,1438.6 L1230.0,1438.4 L1232.0,1438.7 L1234.0,1439.0 L1236.0,1438.8 L1238.0,1438.7 L1240.0,1439.0 L1242.0,1439.4 L1244.0,1439.5 L1246.0,1439.5 L1248.0,1439.6 L1250.0,1439.4 L1252.0,1438.9 L1254.0,1438.4 L1256.0,1438.3 L1258.0,1438.3 L1260.0,1438.1 L1262.0,1437.5 L1264.0,1437.1 L1266.0,1437.2 L1268.0,1437.6 L1270.0,1438.1 L1272.0,1438.6 L1274.0,1439.1 L1276.0,1439.4 L1278.0,1439.4 L1280.0,1439.2 L1282.0,1438.9 L1284.0,1438.9 L1286.0,1438.8 L1288.0,1438.5 L1290.0,1438.1 L1292.0,1437.9 L1294.0,1437.5 L1296.0,1437.0 L1298.0,1437.1 L1300.0,1437.6 L1302.0,1438.2 L1304.0,1438.6 L1306.0,1438.7 L1308.0,1438.6 L1310.0,1438.4 L1312.0,1438.4 L1314.0,1438.6 L1316.0,1439.0 L1318.0,1439.3 L1320.0,1439.4 L1322.0,1439.3 L1324.0,1439.2 L1326.0,1439.0 L1328.0,1438.8 L1330.0,1438.8 L1332.0,1438.9 L1334.0,1439.2 L1336.0,1439.5 L1338.0,1439.6 L1340.0,1439.6 L1342.0,1439.4 L1344.0,1439.3 L1346.0,1439.2 L1348.0,1439.4 L1350.0,1439.7 L1352.0,1440.0 L1354.0,1440.1 L1356.0,1440.0 L1358.0,1439.6 L1360.0,1439.4 L1362.0,1439.5 L1364.0,1439.6 L1366.0,1439.5 L1368.0,1439.3 L1370.0,1438.9 L1372.0,1438.4 L1374.0,1437.7 L1376.0,1437.4 L1378.0,1437.5 L1380.0,1438.1 L1382.0,1438.7 L1384.0,1439.3 L1386.0,1439.7 L1388.0,1440.0 L1390.0,1440.3 L1392.0,1440.4 L1394.0,1440.4 L1396.0,1440.1 L1398.0,1439.7 L1400.0,1439.5 L1402.0,1439.5 L1404.0,1439.3 L1406.0,1439.2 L1408.0,1439.2 L1410.0,1439.1 L1412.0,1438.7 L1414.0,1438.3 L1416.0,1437.9 L1418.0,1437.9 L1420.0,1438.2 L1422.0,1438.6 L1424.0,1438.9 L1426.0,1438.9 L1428.0,1439.0 L1430.0,1439.3 L1432.0,1439.5 L1434.0,1439.6 L1436.0,1439.8 L1438.0,1440.0 L1440.0,1440.3 L1442.0,1440.1 L1444.0,1439.6 L1446.0,1439.4 L1448.0,1439.7 L1450.0,1439.9 L1452.0,1439.6 L1454.0,1438.8 L1456.0,1438.4 L1458.0,1438.2 L1460.0,1438.3 L1462.0,1438.4 L1464.0,1438.6 L1466.0,1438.6 L1468.0,1438.4 L1470.0,1438.1 L1472.0,1437.9 L1474.0,1437.9 L1476.0,1438.0 L1478.0,1438.3 L1480.0,1438.8 L1482.0,1439.0 L1484.0,1439.3 L1486.0,1439.8 L1488.0,1440.3 L1490.0,1440.5 L1492.0,1440.2 L1494.0,1440.1 L1496.0,1440.2 L1498.0,1440.6 L1500.0,1441.2 L1502.0,1441.7 L1504.0,1441.9 L1506.0,1441.8 L1508.0,1441.4 L1510.0,1440.8 L1512.0,1440.2 L1514.0,1439.7 L1516.0,1439.6 L1518.0,1439.8 L1520.0,1439.9 L1522.0,1440.1 L1524.0,1440.2 L1526.0,1440.0 L1528.0,1439.4 L1530.0,1438.9 L1532.0,1438.6 L1534.0,1438.3 L1536.0,1438.1 L1538.0,1438.0 L1540.0,1438.2 L1542.0,1438.5 L1544.0,1438.6 L1546.0,1438.5 L1548.0,1438.2 L1550.0,1438.2 L1552.0,1438.4 L1554.0,1438.8 L1556.0,1439.3 L1558.0,1439.8 L1560.0,1440.3 L1562.0,1440.5 L1564.0,1440.4 L1566.0,1440.6 L1568.0,1440.9 L1570.0,1441.2 L1572.0,1441.1 L1574.0,1441.0 L1576.0,1441.0 L1578.0,1440.9 L1580.0,1440.6 L1582.0,1440.1 L1584.0,1439.7 L1586.0,1439.3 L1588.0,1439.0 L1590.0,1438.6 L1592.0,1438.4 L1594.0,1438.1 L1596.0,1437.6 L1598.0,1437.1 L1600.0,1436.8 L1602.0,1437.0 L1604.0,1437.2 L1606.0,1437.3 L1608.0,1437.4 L1610.0,1437.6 L1612.0,1437.8 L1614.0,1437.9 L1616.0,1437.6 L1618.0,1437.3 L1620.0,1437.2 L1622.0,1437.4 L1624.0,1437.6 L1626.0,1437.7 L1628.0,1437.4 L1630.0,1437.1 L1632.0,1437.0 L1634.0,1437.3 L1636.0,1437.9 L1638.0,1438.4 L1640.0,1438.6 L1642.0,1438.7 L1644.0,1438.6 L1646.0,1438.3 L1648.0,1438.1 L1650.0,1438.4 L1652.0,1438.6 L1654.0,1438.8 L1656.0,1439.1 L1658.0,1439.5 L1660.0,1439.6 L1662.0,1439.4 L1664.0,1439.4 L1666.0,1439.5 L1668.0,1439.3 L1670.0,1438.9 L1672.0,1438.6 L1674.0,1438.7 L1676.0,1438.8 L1678.0,1438.6 L1680.0,1438.3 L1682.0,1438.4 L1684.0,1439.1 L1686.0,1439.8 L1688.0,1440.3 L1690.0,1440.6 L1692.0,1440.7 L1694.0,1440.6 L1696.0,1440.4 L1698.0,1440.3 L1700.0,1440.3 L1702.0,1440.4 L1704.0,1440.2 L1706.0,1439.6 L1708.0,1439.0 L1710.0,1438.8 L1712.0,1438.9 L1714.0,1438.9 L1716.0,1438.7 L1718.0,1438.5 L1720.0,1438.6 L1722.0,1438.8 L1724.0,1438.9 L1726.0,1439.0 L1728.0,1438.9 L1730.0,1438.7 L1732.0,1438.8 L1734.0,1439.2 L1736.0,1439.4 L1738.0,1439.1 L1740.0,1438.5 L1742.0,1438.0 L1744.0,1438.1 L1746.0,1438.6 L1748.0,1439.2 L1750.0,1439.3 L1752.0,1439.3 L1754.0,1439.3 L1756.0,1439.4 L1758.0,1439.6 L1760.0,1439.7 L1762.0,1439.6 L1764.0,1439.8 L1766.0,1440.3 L1768.0,1440.8 L1770.0,1441.0 L1772.0,1440.9 L1774.0,1440.8 L1776.0,1440.9 L1778.0,1440.8 L1780.0,1440.3 L1782.0,1439.4 L1784.0,1438.7 L1786.0,1438.3 L1788.0,1438.2 L1790.0,1438.3 L1792.0,1438.6 L1794.0,1438.8 L1796.0,1438.8 L1798.0,1439.2 L1800.0,1439.7 L1802.0,1440.1 L1804.0,1440.3 L1806.0,1440.2 L1808.0,1440.1 L1810.0,1440.2 L1812.0,1440.4 L1814.0,1440.3 L1816.0,1439.8 L1818.0,1439.4 L1820.0,1439.2 L1822.0,1439.3 L1824.0,1439.3 L1826.0,1439.1 L1828.0,1438.8 L1830.0,1438.6 L1832.0,1438.6 L1834.0,1438.7 L1836.0,1438.9 L1838.0,1439.2 L1840.0,1439.4 L1842.0,1439.6 L1844.0,1439.7 L1846.0,1439.8 L1848.0,1439.7 L1850.0,1439.5 L1852.0,1439.6 L1854.0,1439.9 L1856.0,1440.0 L1858.0,1440.0 L1860.0,1440.0 L1862.0,1439.9 L1864.0,1439.6 L1866.0,1439.2 L1868.0,1439.1 L1870.0,1439.4 L1872.0,1439.4 L1874.0,1439.2 L1876.0,1438.9 L1878.0,1438.6 L1880.0,1438.5 L1882.0,1438.6 L1884.0,1438.8 L1886.0,1438.8 L1888.0,1438.6 L1890.0,1438.5 L1892.0,1438.5 L1894.0,1438.9 L1896.0,1439.3 L1898.0,1439.6 L1900.0,1439.7 L1902.0,1439.6 L1904.0,1439.4 L1906.0,1439.2 L1908.0,1439.2 L1910.0,1439.3 L1912.0,1439.4 L1914.0,1439.4 L1916.0,1439.3 L1918.0,1439.4 L1920.0,1439.6 L1922.0,1439.7 L1924.0,1439.9 L1926.0,1439.9 L1928.0,1440.0 L1930.0,1440.1 L1932.0,1440.2 L1934.0,1440.3 L1936.0,1440.3 L1938.0,1440.0 L1940.0,1439.4 L1942.0,1439.0 L1944.0,1439.1 L1946.0,1439.5 L1948.0,1439.8 L1950.0,1440.0 L1952.0,1440.1 L1954.0,1440.3 L1956.0,1440.5 L1958.0,1440.8 L1960.0,1441.2 L1962.0,1441.2 L1964.0,1440.8 L1966.0,1440.2 L1968.0,1439.9 L1970.0,1439.8 L1972.0,1439.8 L1974.0,1439.7 L1976.0,1439.6 L1978.0,1439.6 L1980.0,1439.8 L1982.0,1440.1 L1984.0,1440.2 L1986.0,1439.8 L1988.0,1439.2 L1990.0,1438.8 L1992.0,1438.8 L1994.0,1439.1 L1996.0,1439.4 L1998.0,1439.6 L2000.0,1439.5 L2002.0,1439.4 L2004.0,1439.2 L2006.0,1439.1 L2008.0,1439.3 L2010.0,1439.9 L2012.0,1440.5 L2014.0,1441.0 L2016.0,1441.3 L2018.0,1441.4 L2020.0,1441.1 L2022.0,1440.6 L2024.0,1440.3 L2026.0,1440.3 L2028.0,1440.3 L2030.0,1440.4 L2032.0,1440.5 L2034.0,1440.6 L2036.0,1440.6 L2038.0,1440.5 L2040.0,1440.6 L2042.0,1440.6 L2044.0,1440.8 L2046.0,1441.0 L2048.0,1441.3 L2050.0,1441.5 L2052.0,1441.5 L2054.0,1441.3 L2056.0,1440.9 L2058.0,1440.6 L2060.0,1440.5 L2062.0,1440.4 L2064.0,1440.5 L2066.0,1440.7 L2068.0,1441.1 L2070.0,1441.3 L2072.0,1441.3 L2074.0,1441.1 L2076.0,1440.6 L2078.0,1439.9 L2080.0,1439.4 L2082.0,1438.8 L2084.0,1438.5 L2086.0,1438.5 L2088.0,1438.7 L2090.0,1438.8 L2092.0,1438.8 L2094.0,1438.7 L2096.0,1438.5 L2098.0,1438.2 L2100.0,1438.1 L2102.0,1438.2 L2104.0,1438.5 L2106.0,1438.8 L2108.0,1439.0 L2110.0,1438.8 L2112.0,1438.4 L2114.0,1438.0 L2116.0,1438.0 L2118.0,1438.1 L2120.0,1438.2 L2122.0,1437.8 L2124.0,1437.5 L2126.0,1437.6 L2128.0,1438.1 L2130.0,1438.5 L2132.0,1438.6 L2134.0,1438.7 L2136.0,1438.8 L2138.0,1439.1 L2140.0,1439.6 L2142.0,1439.9 L2144.0,1440.1 L2146.0,1440.0 L2148.0,1439.7 L2150.0,1439.3 L2152.0,1439.2 L2154.0,1439.0 L2156.0,1438.7 L2158.0,1438.2 L2160.0,1438.2 L2162.0,1438.6 L2164.0,1439.2 L2166.0,1439.3 L2168.0,1439.1 L2170.0,1438.9 L2172.0,1439.1 L2174.0,1439.6 L2176.0,1439.9 L2178.0,1439.9 L2180.0,1440.1 L2182.0,1440.3 L2184.0,1440.1 L2186.0,1439.8 L2188.0,1439.6 L2190.0,1439.8 L2192.0,1440.0 L2194.0,1440.1 L2196.0,1440.0 L2198.0,1439.6 L2200.0,1439.2 L2202.0,1439.0 L2204.0,1439.0 L2206.0,1439.2 L2208.0,1439.3 L2210.0,1439.1 L2212.0,1439.0 L2214.0,1438.9 L2216.0,1439.0 L2218.0,1439.3 L2220.0,1439.5 L2222.0,1439.4 L2224.0,1439.1 L2226.0,1438.7 L2228.0,1438.3 L2230.0,1438.1 L2232.0,1438.1 L2234.0,1438.0 L2236.0,1437.8 L2238.0,1437.5 L2240.0,1437.4 L2242.0,1437.7 L2244.0,1438.3 L2246.0,1438.9 L2248.0,1438.9 L2250.0,1438.5 L2252.0,1438.2 L2254.0,1438.1 L2256.0,1438.3 L2258.0,1438.5 L2260.0,1438.7 L2262.0,1438.7 L2264.0,1438.5 L2266.0,1438.4 L2268.0,1438.4 L2270.0,1438.4 L2272.0,1438.4 L2274.0,1438.4 L2276.0,1438.5 L2278.0,1438.9 L2280.0,1439.3 L2282.0,1439.6 L2284.0,1439.7 L2286.0,1439.5 L2288.0,1439.3 L2290.0,1439.0 L2292.0,1438.6 L2294.0,1438.2 L2296.0,1437.9 L2298.0,1437.7 L2300.0,1437.7 L2302.0,1437.9 L2304.0,1438.0 L2306.0,1437.9 L2308.0,1437.9 L2310.0,1438.5 L2312.0,1439.4 L2314.0,1440.0 L2316.0,1440.0 L2318.0,1439.6 L2320.0,1439.3 L2322.0,1439.5 L2324.0,1439.9 L2326.0,1440.0 L2328.0,1439.8 L2330.0,1439.5 L2332.0,1439.3 L2334.0,1439.3 L2336.0,1439.8 L2338.0,1440.4 L2340.0,1440.7 L2342.0,1440.5 L2344.0,1440.1 L2346.0,1439.6 L2348.0,1439.1 L2350.0,1439.1 L2352.0,1439.7 L2354.0,1440.3 L2356.0,1440.6 L2358.0,1440.4 L2360.0,1440.0 L2362.0,1439.8 L2364.0,1439.8 L2366.0,1439.6 L2368.0,1439.2 L2370.0,1439.2 L2372.0,1439.5 L2374.0,1439.8 L2376.0,1439.9 L2378.0,1440.1 L2380.0,1440.4 L2382.0,1440.8 L2384.0,1441.0 L2386.0,1440.9 L2388.0,1440.5 L2390.0,1439.8 L2392.0,1439.1 L2394.0,1438.8 L2396.0,1439.0 L2398.0,1439.4 L2400.0,1439.5 L2402.0,1439.3 L2404.0,1439.0 L2406.0,1439.0 L2408.0,1439.4 L2410.0,1439.8 L2412.0,1440.0 L2414.0,1440.0 L2416.0,1440.2 L2418.0,1440.1 L2420.0,1439.7 L2422.0,1438.9 L2424.0,1438.1 L2426.0,1437.8 L2428.0,1437.9 L2430.0,1437.9 L2432.0,1437.7 L2434.0,1437.5 L2436.0,1437.5 L2438.0,1437.8 L2440.0,1437.8 L2442.0,1437.5 L2444.0,1437.5 L2446.0,1437.9 L2448.0,1438.4 L2450.0,1438.7 L2452.0,1439.1 L2454.0,1439.4 L2456.0,1439.4 L2458.0,1439.1 L2460.0,1438.9 L2462.0,1439.1 L2464.0,1439.4 L2466.0,1439.7 L2468.0,1439.8 L2470.0,1439.8 L2472.0,1439.6 L2474.0,1439.3 L2476.0,1438.9 L2478.0,1438.7 L2480.0,1438.6 L2482.0,1438.7 L2484.0,1438.8 L2486.0,1439.0 L2488.0,1439.1 L2490.0,1439.0 L2492.0,1438.6 L2494.0,1438.2 L2496.0,1438.1 L2498.0,1438.3 L2500.0,1438.6 L2502.0,1438.8 L2504.0,1438.6 L2506.0,1438.3 L2508.0,1438.2 L2510.0,1438.6 L2512.0,1439.1 L2514.0,1439.2 L2516.0,1439.1 L2518.0,1439.2 L2520.0,1439.5 L2522.0,1439.5 L2524.0,1439.3 L2526.0,1439.2 L2528.0,1439.4 L2530.0,1439.7 L2532.0,1439.6 L2534.0,1439.3 L2536.0,1439.0 L2538.0,1438.8 L2540.0,1438.7 L2542.0,1438.6 L2544.0,1438.4 L2546.0,1438.3 L2548.0,1438.4 L2550.0,1438.7 L2552.0,1439.1 L2554.0,1439.3 L2556.0,1439.2 L2558.0,1439.2 L2560.0,1439.6 L2562.0,1439.9 L2564.0,1440.2 L2566.0,1440.4 L2568.0,1440.8 L2570.0,1441.1 L2572.0,1441.1 L2574.0,1440.9 L2576.0,1440.6 L2578.0,1440.3 L2580.0,1440.0 L2582.0,1439.6 L2584.0,1439.2 L2586.0,1438.8 L2588.0,1438.7 L2590.0,1438.7 L2592.0,1438.8" stroke="#4477AA" stroke-opacity="0.8"/>
</g>
<g shape-rendering="crispEdges">
<rect x="204.00" y="1518.10" width="2.00" height="33.40" fill="#000"/><rect x="204.00" y="145.50" width="2.00" height="32.20" fill="#000"/><rect x="300.00" y="1534.20" width="2.00" height="17.30" fill="#000"/><rect x="300.00" y="145.50" width="2.00" height="16.30" fill="#000"/><rect x="395.00" y="1534.20" width="2.00" height="17.30" fill="#000"/><rect x="395.00" y="145.50" width="2.00" height="16.30" fill="#000"/><rect x="491.00" y="1534.20" width="2.00" height="17.30" fill="#000"/><rect x="491.00" y="145.50" width="2.00" height="16.30" fill="#000"/><rect x="586.00" y="1534.20" width="2.00" height="17.30" fill="#000"/><rect x="586.00" y="145.50" width="2.00" height="16.30" fill="#000"/><rect x="682.00" y="1518.10" width="2.00" height="33.40" fill="#000"/><rect x="682.00" y="145.50" width="2.00" height="32.20" fill="#000"/><rect x="777.00" y="1534.20" width="2.00" height="17.30" fill="#000"/><rect x="777.00" y="145.50" width="2.00" height="16.30" fill="#000"/><rect x="873.00" y="1534.20" width="2.00" height="17.30" fill="#000"/><rect x="873.00" y="145.50" width="2.00" height="16.30" fill="#000"/><rect x="968.00" y="1534.20" width="2.00" height="17.30" fill="#000"/><rect x="968.00" y="145.50" width="2.00" height="16.30" fill="#000"/><rect x="1064.00" y="1534.20" width="2.00" height="17.30" fill="#000"/><rect x="1064.00" y="145.50" width="2.00" height="16.30" fill="#000"/><rect x="1159.00" y="1518.10" width="2.00" height="33.40" fill="#000"/><rect x="1159.00" y="145.50" width="2.00" height="32.20" fill="#000"/><rect x="1255.00" y="1534.20" width="2.00" height="17.30" fill="#000"/><rect x="1255.00" y="145.50" width="2.00" height="16.30" fill="#000"/><rect x="1350.00" y="1534.20" width="2.00" height="17.30" fill="#000"/><rect x="1350.00" y="145.50" width="2.00" height="16.30" fill="#000"/><rect x="1446.00" y="1534.20" width="2.00" height="17.30" fill="#000"/><rect x="1446.00" y="145.50" width="2.00" height="16.30" fill="#000"/><rect x="1541.00" y="1534.20" width="2.00" height="17.30" fill="#000"/><rect x="1541.00" y="145.50" width="2.00" height="16.30" fill="#000"/><rect x="1637.00" y="1518.10" width="2.00" height="33.40" fill="#000"/><rect x="1637.00" y="145.50" width="2.00" height="32.20" fill="#000"/><rect x="1732.00" y="1534.20" width="2.00" height="17.30" fill="#000"/><rect x="1732.00" y="145.50" width="2.00" height="16.30" fill="#000"/><rect x="1828.00" y="1534.20" width="2.00" height="17.30" fill="#000"/><rect x="1828.00" y="145.50" width="2.00" height="16.30" fill="#000"/><rect x="1923.00" y="1534.20" width="2.00" height="17.30" fill="#000"/><rect x="1923.00" y="145.50" width="2.00" height="16.30" fill="#000"/><rect x="2019.00" y="1534.20" width="2.00" height="17.30" fill="#000"/><rect x="2019.00" y="145.50" width="2.00" height="16.30" fill="#000"/><rect x="2114.00" y="1518.10" width="2.00" height="33.40" fill="#000"/><rect x="2114.00" y="145.50" width="2.00" height="32.20" fill="#000"/><rect x="2210.00" y="1534.20" width="2.00" height="17.30" fill="#000"/><rect x="2210.00" y="145.50" width="2.00" height="16.30" fill="#000"/><rect x="2305.00" y="1534.20" width="2.00" height="17.30" fill="#000"/><rect x="2305.00" y="145.50" width="2.00" height="16.30" fill="#000"/><rect x="2401.00" y="1534.20" width="2.00" height="17.30" fill="#000"/><rect x="2401.00" y="145.50" width="2.00" height="16.30" fill="#000"/><rect x="2496.00" y="1534.20" width="2.00" height="17.30" fill="#000"/><rect x="2496.00" y="145.50" width="2.00" height="16.30" fill="#000"/><rect x="2592.00" y="1518.10" width="2.00" height="33.40" fill="#000"/><rect x="2592.00" y="145.50" width="2.00" height="32.20" fill="#000"/><rect x="205.50" y="1550.00" width="32.60" height="2.00" fill="#000"/><rect x="2560.00" y="1550.00" width="33.50" height="2.00" fill="#000"/><rect x="205.50" y="1503.00" width="16.60" height="2.00" fill="#000"/><rect x="2576.00" y="1503.00" width="17.50" height="2.00" fill="#000"/><rect x="205.50" y="1456.00" width="16.60" height="2.00" fill="#000"/><rect x="2576.00" y="1456.00" width="17.50" height="2.00" fill="#000"/><rect x="205.50" y="1409.00" width="16.60" height="2.00" fill="#000"/><rect x="2576.00" y="1409.00" width="17.50" height="2.00" fill="#000"/><rect x="205.50" y="1362.00" width="16.60" height="2.00" fill="#000"/><rect x="2576.00" y="1362.00" width="17.50" height="2.00" fill="#000"/><rect x="205.50" y="1315.00" width="32.60" height="2.00" fill="#000"/><rect x="2560.00" y="1315.00" width="33.50" height="2.00" fill="#000"/><rect x="205.50" y="1269.00" width="16.60" height="2.00" fill="#000"/><rect x="2576.00" y="1269.00" width="17.50" height="2.00" fill="#000"/><rect x="205.50" y="1222.00" width="16.60" height="2.00" fill="#000"/><rect x="2576.00" y="1222.00" width="17.50" height="2.00" fill="#000"/><rect x="205.50" y="1175.00" width="16.60" height="2.00" fill="#000"/><rect x="2576.00" y="1175.00" width="17.50" height="2.00" fill="#000"/><rect x="205.50" y="1128.00" width="16.60" height="2.00" fill="#000"/><rect x="2576.00" y="1128.00" width="17.50" height="2.00" fill="#000"/><rect x="205.50" y="1081.00" width="32.60" height="2.00" fill="#000"/><rect x="2560.00" y="1081.00" width="33.50" height="2.00" fill="#000"/><rect x="205.50" y="1034.00" width="16.60" height="2.00" fill="#000"/><rect x="2576.00" y="1034.00" width="17.50" height="2.00" fill="#000"/><rect x="205.50" y="987.00" width="16.60" height="2.00" fill="#000"/><rect x="2576.00" y="987.00" width="17.50" height="2.00" fill="#000"/><rect x="205.50" y="941.00" width="16.60" height="2.00" fill="#000"/><rect x="2576.00" y="941.00" width="17.50" height="2.00" fill="#000"/><rect x="205.50" y="894.00" width="16.60" height="2.00" fill="#000"/><rect x="2576.00" y="894.00" width="17.50" height="2.00" fill="#000"/><rect x="205.50" y="847.00" width="32.60" height="2.00" fill="#000"/><rect x="2560.00" y="847.00" width="33.50" height="2.00" fill="#000"/><rect x="205.50" y="800.00" width="16.60" height="2.00" fill="#000"/><rect x="2576.00" y="800.00" width="17.50" height="2.00" fill="#000"/><rect x="205.50" y="753.00" width="16.60" height="2.00" fill="#000"/><rect x="2576.00" y="753.00" width="17.50" height="2.00" fill="#000"/><rect x="205.50" y="706.00" width="16.60" height="2.00" fill="#000"/><rect x="2576.00" y="706.00" width="17.50" height="2.00" fill="#000"/><rect x="205.50" y="659.00" width="16.60" height="2.00" fill="#000"/><rect x="2576.00" y="659.00" width="17.50" height="2.00" fill="#000"/><rect x="205.50" y="613.00" width="32.60" height="2.00" fill="#000"/><rect x="2560.00" y="613.00" width="33.50" height="2.00" fill="#000"/><rect x="205.50" y="566.00" width="16.60" height="2.00" fill="#000"/><rect x="2576.00" y="566.00" width="17.50" height="2.00" fill="#000"/><rect x="205.50" y="519.00" width="16.60" height="2.00" fill="#000"/><rect x="2576.00" y="519.00" width="17.50" height="2.00" fill="#000"/><rect x="205.50" y="472.00" width="16.60" height="2.00" fill="#000"/><rect x="2576.00" y="472.00" width="17.50" height="2.00" fill="#000"/><rect x="205.50" y="425.00" width="16.60" height="2.00" fill="#000"/><rect x="2576.00" y="425.00" width="17.50" height="2.00" fill="#000"/><rect x="205.50" y="378.00" width="32.60" height="2.00" fill="#000"/><rect x="2560.00" y="378.00" width="33.50" height="2.00" fill="#000"/><rect x="205.50" y="331.00" width="16.60" height="2.00" fill="#000"/><rect x="2576.00" y="331.00" width="17.50" height="2.00" fill="#000"/><rect x="205.50" y="285.00" width="16.60" height="2.00" fill="#000"/><rect x="2576.00" y="285.00" width="17.50" height="2.00" fill="#000"/><rect x="205.50" y="238.00" width="16.60" height="2.00" fill="#000"/><rect x="2576.00" y="238.00" width="17.50" height="2.00" fill="#000"/><rect x="205.50" y="191.00" width="16.60" height="2.00" fill="#000"/><rect x="2576.00" y="191.00" width="17.50" height="2.00" fill="#000"/><rect x="205.50" y="144.00" width="32.60" height="2.00" fill="#000"/><rect x="2560.00" y="144.00" width="33.50" height="2.00" fill="#000"/>
</g>
<rect x="205.5" y="145.5" width="2388.0" height="1406.0" fill="none" stroke="#000" stroke-width="3.2"/>
<g>
<rect x="1960" y="173.6" width="604" height="184.4" rx="10" ry="10" fill="#fff" fill-opacity="0.8" stroke="#ccc" stroke-opacity="0.8" stroke-width="3.6"/>
<rect x="1975" y="211" width="134" height="17" fill="#4477AA"/>
<rect x="1975" y="294" width="134" height="17" fill="#AA3377"/>
<text transform="translate(2145.95,240.05) scale(0.6639,1)" font-size="56.5" font-family="Liberation Sans, sans-serif" font-weight="bold" fill="#000" stroke="#000" stroke-width="0.5" stroke-linejoin="miter" vector-effect="non-scaling-stroke">Peptide BB-Lipid HGs</text>
<text transform="translate(2145.90,322.85) scale(0.6772,1)" font-size="56.5" font-family="Liberation Sans, sans-serif" font-weight="bold" fill="#000" stroke="#000" stroke-width="0.5" stroke-linejoin="miter" vector-effect="non-scaling-stroke">Peptide BB-Lipid tails</text>
</g>
<text transform="translate(1102.21,118.60) scale(0.6737,1)" font-size="101" font-family="Liberation Sans, sans-serif" font-weight="bold" fill="#000" stroke="#000" stroke-width="1.5" stroke-linejoin="miter" vector-effect="non-scaling-stroke">Minimum distance</text><text transform="translate(118.15,1228.92) rotate(-90) scale(0.6781,1)" font-size="101" font-family="Liberation Sans, sans-serif" font-weight="bold" fill="#000" stroke="#000" stroke-width="1.5" stroke-linejoin="miter" vector-effect="non-scaling-stroke">Minimum distance <tspan font-size="86.86" dy="-8.89">(</tspan><tspan dy="8.89">nm</tspan><tspan font-size="86.86" dy="-8.89">)</tspan></text><text transform="translate(1251.57,1736.05) scale(0.6453,1)" font-size="105" font-family="Liberation Sans, sans-serif" font-weight="bold" fill="#000" stroke="#000" stroke-width="1.5" stroke-linejoin="miter" vector-effect="non-scaling-stroke">Time <tspan font-size="90.30" dy="-9.24">(</tspan><tspan dy="9.24">ns</tspan><tspan font-size="90.30" dy="-9.24">)</tspan></text><text transform="translate(191.49,1627.90) scale(0.6233,1)" font-size="86.5" font-family="Liberation Sans, sans-serif" font-weight="bold" fill="#000" stroke="#000" stroke-width="0.8" stroke-linejoin="miter" vector-effect="non-scaling-stroke">0</text><text transform="translate(621.00,1627.90) scale(0.6391,1)" font-size="86.5" font-family="Liberation Sans, sans-serif" font-weight="bold" fill="#000" stroke="#000" stroke-width="0.8" stroke-linejoin="miter" vector-effect="non-scaling-stroke">1000</text><text transform="translate(1100.28,1627.90) scale(0.6302,1)" font-size="86.5" font-family="Liberation Sans, sans-serif" font-weight="bold" fill="#000" stroke="#000" stroke-width="0.8" stroke-linejoin="miter" vector-effect="non-scaling-stroke">2000</text><text transform="translate(1578.43,1627.90) scale(0.6273,1)" font-size="86.5" font-family="Liberation Sans, sans-serif" font-weight="bold" fill="#000" stroke="#000" stroke-width="0.8" stroke-linejoin="miter" vector-effect="non-scaling-stroke">3000</text><text transform="translate(2056.40,1627.90) scale(0.6253,1)" font-size="86.5" font-family="Liberation Sans, sans-serif" font-weight="bold" fill="#000" stroke="#000" stroke-width="0.8" stroke-linejoin="miter" vector-effect="non-scaling-stroke">4000</text><text transform="translate(2533.27,1627.90) scale(0.6292,1)" font-size="86.5" font-family="Liberation Sans, sans-serif" font-weight="bold" fill="#000" stroke="#000" stroke-width="0.8" stroke-linejoin="miter" vector-effect="non-scaling-stroke">5000</text><text transform="translate(160.04,1572.60) scale(0.6233,1)" font-size="86.5" font-family="Liberation Sans, sans-serif" font-weight="bold" fill="#000" stroke="#000" stroke-width="0.8" stroke-linejoin="miter" vector-effect="non-scaling-stroke">0</text><text transform="translate(159.53,1338.27) scale(0.6227,1)" font-size="86.5" font-family="Liberation Sans, sans-serif" font-weight="bold" fill="#000" stroke="#000" stroke-width="0.8" stroke-linejoin="miter" vector-effect="non-scaling-stroke">1</text><text transform="translate(160.03,1103.93) scale(0.6236,1)" font-size="86.5" font-family="Liberation Sans, sans-serif" font-weight="bold" fill="#000" stroke="#000" stroke-width="0.8" stroke-linejoin="miter" vector-effect="non-scaling-stroke">2</text><text transform="translate(159.83,869.60) scale(0.6241,1)" font-size="86.5" font-family="Liberation Sans, sans-serif" font-weight="bold" fill="#000" stroke="#000" stroke-width="0.8" stroke-linejoin="miter" vector-effect="non-scaling-stroke">3</text><text transform="translate(158.15,635.27) scale(0.6254,1)" font-size="86.5" font-family="Liberation Sans, sans-serif" font-weight="bold" fill="#000" stroke="#000" stroke-width="0.8" stroke-linejoin="miter" vector-effect="non-scaling-stroke">4</text><text transform="translate(159.47,400.93) scale(0.6241,1)" font-size="86.5" font-family="Liberation Sans, sans-serif" font-weight="bold" fill="#000" stroke="#000" stroke-width="0.8" stroke-linejoin="miter" vector-effect="non-scaling-stroke">5</text><text transform="translate(159.85,166.60) scale(0.6236,1)" font-size="86.5" font-family="Liberation Sans, sans-serif" font-weight="bold" fill="#000" stroke="#000" stroke-width="0.8" stroke-linejoin="miter" vector-effect="non-scaling-stroke">6</text>
</svg></body></html>
